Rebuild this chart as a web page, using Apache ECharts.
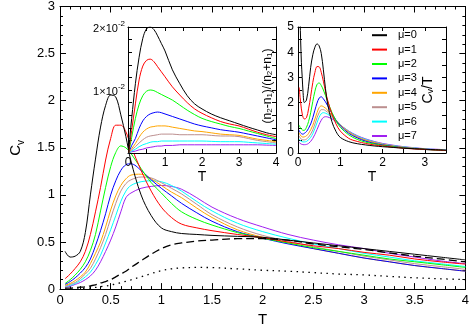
<!DOCTYPE html>
<html>
<head>
<meta charset="utf-8">
<script src="https://cdn.jsdelivr.net/npm/echarts@6/dist/echarts.min.js"></script>
<style>
  html, body { margin: 0; padding: 0; background: #fff; }
  #chart { width: 472px; height: 332px; }
</style>
</head>
<body>
<div id="chart"></div>
<script>
// main panel: C_v vs T
var T_main = [0.05,0.1,0.15,0.2,0.25,0.3,0.35,0.4,0.45,0.5,0.55,0.6,0.65,0.7,0.8,0.9,1.0,1.1,1.2,1.35,1.5,1.75,2,2.25,2.5,2.75,3,3.25,3.5,3.75,4];
var cv_mu0 = [0.40,0.34,0.35,0.40,0.60,1.00,1.38,1.72,1.95,2.06,2.04,1.85,1.62,1.36,1.00,0.78,0.65,0.61,0.59,0.58,0.57,0.56,0.55,0.52,0.49,0.46,0.43,0.40,0.37,0.34,0.31];
var cv_mu1 = [0.11,0.16,0.22,0.29,0.40,0.58,0.82,1.08,1.37,1.60,1.74,1.74,1.67,1.52,1.26,1.04,0.87,0.76,0.69,0.65,0.62,0.58,0.545,0.50,0.46,0.43,0.39,0.36,0.32,0.29,0.265];
var cv_mu2 = [0.06,0.10,0.15,0.21,0.29,0.41,0.58,0.83,1.08,1.30,1.45,1.52,1.50,1.44,1.28,1.13,1.02,0.91,0.82,0.74,0.68,0.60,0.54,0.49,0.44,0.40,0.36,0.32,0.29,0.26,0.23];
var cv_mu3 = [0.05,0.08,0.12,0.17,0.23,0.32,0.46,0.62,0.80,1.00,1.15,1.26,1.32,1.33,1.26,1.16,1.07,0.99,0.91,0.81,0.72,0.61,0.54,0.48,0.43,0.38,0.33,0.29,0.25,0.22,0.19];
var cv_mu4 = [0.04,0.06,0.09,0.13,0.18,0.27,0.38,0.50,0.66,0.84,0.99,1.10,1.17,1.21,1.22,1.17,1.10,1.03,0.97,0.86,0.76,0.63,0.55,0.49,0.43,0.38,0.33,0.29,0.25,0.22,0.19];
var cv_mu5 = [0.03,0.05,0.07,0.11,0.16,0.22,0.32,0.44,0.58,0.75,0.91,1.04,1.12,1.16,1.19,1.18,1.13,1.07,1.01,0.90,0.79,0.66,0.57,0.51,0.45,0.40,0.35,0.31,0.27,0.24,0.21];
var cv_mu6 = [0.03,0.04,0.06,0.09,0.13,0.18,0.26,0.36,0.49,0.63,0.78,0.93,1.04,1.10,1.14,1.15,1.14,1.10,1.04,0.93,0.83,0.70,0.61,0.54,0.48,0.43,0.38,0.34,0.30,0.27,0.24];
var cv_mu7 = [0.02,0.03,0.05,0.07,0.10,0.14,0.20,0.29,0.40,0.52,0.66,0.82,0.97,1.02,1.07,1.09,1.10,1.09,1.06,0.97,0.87,0.75,0.66,0.58,0.52,0.47,0.43,0.38,0.34,0.30,0.27];
var cv_dashed = [0.01,0.01,0.015,0.02,0.025,0.035,0.045,0.065,0.08,0.10,0.13,0.16,0.19,0.23,0.30,0.37,0.43,0.47,0.49,0.51,0.52,0.535,0.535,0.52,0.48,0.45,0.42,0.385,0.35,0.32,0.29];
var cv_dotted = [0,0,0.002,0.005,0.008,0.012,0.018,0.025,0.033,0.043,0.055,0.068,0.083,0.098,0.13,0.165,0.195,0.215,0.225,0.23,0.228,0.215,0.20,0.19,0.175,0.16,0.15,0.135,0.12,0.11,0.10];

// inset 1: (n2-n1)/(n2+n1), in units of 1e-2
var T_pol = [0.02,0.05,0.1,0.2,0.3,0.4,0.5,0.6,0.7,0.8,0.9,1.0,1.2,1.4,1.6,1.8,2.0,2.25,2.5,2.75,3.0,3.25,3.5,3.75,4.0];
var pol_mu0 = [0,0.25,0.55,1.10,1.52,1.82,1.97,2.00,1.96,1.86,1.74,1.62,1.32,1.10,0.91,0.78,0.70,0.62,0.56,0.51,0.46,0.41,0.365,0.32,0.29];
var pol_mu1 = [0,0.15,0.36,0.78,1.16,1.38,1.47,1.49,1.45,1.37,1.29,1.21,1.05,0.92,0.80,0.70,0.63,0.56,0.50,0.46,0.43,0.38,0.33,0.29,0.26];
var pol_mu2 = [0,0.10,0.25,0.55,0.77,0.91,0.98,1.00,0.99,0.96,0.93,0.90,0.84,0.76,0.68,0.61,0.55,0.50,0.46,0.42,0.39,0.35,0.31,0.27,0.23];
var pol_mu3 = [0,0.05,0.12,0.23,0.39,0.51,0.58,0.62,0.64,0.65,0.64,0.62,0.58,0.54,0.50,0.46,0.43,0.40,0.37,0.35,0.33,0.30,0.27,0.24,0.21];
var pol_mu4 = [0,0.03,0.07,0.15,0.25,0.33,0.38,0.41,0.42,0.43,0.43,0.43,0.41,0.39,0.37,0.35,0.34,0.32,0.30,0.29,0.28,0.25,0.22,0.20,0.18];
var pol_mu5 = [0,0.02,0.05,0.10,0.16,0.21,0.25,0.27,0.28,0.29,0.30,0.30,0.30,0.29,0.29,0.29,0.29,0.28,0.27,0.27,0.26,0.23,0.20,0.18,0.16];
var pol_mu6 = [0,0.01,0.03,0.06,0.10,0.13,0.15,0.17,0.18,0.18,0.19,0.19,0.19,0.19,0.19,0.19,0.19,0.185,0.18,0.18,0.18,0.17,0.16,0.15,0.14];
var pol_mu7 = [0,0.01,0.02,0.03,0.05,0.06,0.08,0.09,0.10,0.11,0.11,0.12,0.12,0.13,0.13,0.13,0.13,0.13,0.13,0.13,0.13,0.13,0.13,0.125,0.12];

// inset 2: C_v/T
var T_cvt = [0.03,0.05,0.08,0.1,0.12,0.15,0.2,0.25,0.3,0.35,0.4,0.45,0.5,0.55,0.6,0.65,0.7,0.8,0.9,1.0,1.2,1.4,1.6,1.8,2.0,2.25,2.5,2.75,3.0,3.25,3.5];
var cvt_mu0 = [8,5.3,3.6,3.0,2.4,2.0,2.1,2.65,3.4,3.9,4.2,4.33,4.25,3.95,3.3,2.55,1.95,1.25,0.85,0.62,0.45,0.37,0.32,0.28,0.25,0.22,0.19,0.17,0.15,0.13,0.11];
var cvt_mu1 = [2.6,2.2,1.75,1.55,1.42,1.35,1.40,1.75,2.25,2.8,3.2,3.43,3.42,3.2,2.85,2.45,2.1,1.55,1.15,0.87,0.58,0.46,0.38,0.32,0.28,0.23,0.19,0.16,0.14,0.12,0.10];
var cvt_mu2 = [1.1,1.02,0.95,0.92,0.9,0.9,1.02,1.25,1.6,2.05,2.45,2.72,2.78,2.68,2.5,2.28,2.05,1.62,1.28,1.02,0.72,0.54,0.43,0.36,0.30,0.25,0.20,0.17,0.14,0.12,0.10];
var cvt_mu3 = [0.9,0.82,0.77,0.75,0.75,0.78,0.85,0.98,1.15,1.4,1.7,1.98,2.18,2.23,2.15,2.03,1.88,1.58,1.3,1.08,0.78,0.6,0.47,0.38,0.32,0.26,0.21,0.17,0.14,0.12,0.10];
var cvt_mu4 = [0.8,0.72,0.66,0.64,0.63,0.64,0.68,0.78,0.92,1.1,1.35,1.6,1.8,1.87,1.84,1.78,1.7,1.5,1.3,1.1,0.82,0.63,0.5,0.41,0.34,0.27,0.22,0.18,0.15,0.12,0.10];
var cvt_mu5 = [0.68,0.6,0.55,0.53,0.52,0.52,0.55,0.63,0.75,0.92,1.15,1.4,1.6,1.72,1.72,1.68,1.62,1.46,1.29,1.12,0.85,0.65,0.52,0.43,0.35,0.28,0.23,0.19,0.15,0.13,0.11];
var cvt_mu6 = [0.55,0.5,0.46,0.45,0.44,0.44,0.46,0.52,0.62,0.77,0.97,1.2,1.42,1.56,1.6,1.58,1.54,1.42,1.27,1.12,0.86,0.67,0.54,0.44,0.36,0.29,0.24,0.2,0.16,0.14,0.12];
var cvt_mu7 = [0.42,0.38,0.35,0.34,0.33,0.33,0.34,0.38,0.46,0.58,0.74,0.93,1.13,1.3,1.41,1.44,1.43,1.36,1.24,1.11,0.87,0.69,0.56,0.46,0.38,0.31,0.25,0.21,0.17,0.15,0.13];

var MU = ['μ=0','μ=1','μ=2','μ=3','μ=4','μ=5','μ=6','μ=7'];
var COLORS = ['#000000','#ff0000','#00ff00','#0000ff','#ffa500','#bc8f8f','#00ffff','#a020f0'];
var FONT = '"Liberation Sans", Arial, Helvetica, sans-serif';

var chart = echarts.init(document.getElementById('chart'));

function pairs(xs, ys) {
  return xs.map(function (x, i) { return [x, ys[i]]; });
}

// axes come in pairs per grid: [bottom/left, top/right], so the data axis of grid g is 2*g
function line(name, xs, ys, color, g, z, dash, width) {
  return {
    type: 'line', name: name,
    xAxisIndex: 2 * g, yAxisIndex: 2 * g,
    data: pairs(xs, ys),
    symbol: 'none', showSymbol: false,
    smooth: 0.35,
    clip: true,
    z: z,
    silent: true,
    lineStyle: { color: color, width: width || 1, type: dash || 'solid' },
    itemStyle: { color: color }
  };
}

function axis(gridIndex, pos, min, max, interval, o) {
  o = o || {};
  var a = {
    type: 'value', gridIndex: gridIndex, position: pos,
    min: min, max: max, interval: interval,
    z: o.z || 0,
    splitLine: { show: false },
    axisLine: { show: true, onZero: false, lineStyle: { color: '#000', width: 1 } },
    axisTick: { show: true, inside: true, length: o.tick || 6, lineStyle: { color: '#000' } },
    minorTick: { show: !!o.minor, splitNumber: o.minor || 5, length: 3, lineStyle: { color: '#000' } },
    axisLabel: { show: !!o.labels, color: '#000', fontSize: o.fontSize || 13, fontFamily: FONT, margin: o.margin || 5,
                 formatter: o.formatter, rich: o.rich, showMinLabel: true, showMaxLabel: true }
  };
  if (o.name) {
    a.name = o.name;
    a.nameLocation = 'middle';
    a.nameGap = o.nameGap;
    a.nameRotate = o.nameRotate;
    a.nameTextStyle = { color: '#000', fontSize: o.nameSize || 15, fontFamily: FONT, rich: o.nameRich };
  }
  return a;
}

function intOnly(v) { return Math.abs(v - Math.round(v)) < 1e-9 ? String(Math.round(v)) : ''; }

var series = [];
var cvMain = [cv_mu0, cv_mu1, cv_mu2, cv_mu3, cv_mu4, cv_mu5, cv_mu6, cv_mu7];
var polIns = [pol_mu0, pol_mu1, pol_mu2, pol_mu3, pol_mu4, pol_mu5, pol_mu6, pol_mu7];
var cvtIns = [cvt_mu0, cvt_mu1, cvt_mu2, cvt_mu3, cvt_mu4, cvt_mu5, cvt_mu6, cvt_mu7];
for (var i = 0; i < 8; i++) {
  series.push(line(MU[i], T_main, cvMain[i], COLORS[i], 0, 2 + (8 - i) * 0.01));
}
series.push(line('dashed', T_main, cv_dashed, '#000', 0, 3, [8, 4], 1.3));
series.push(line('dotted', T_main, cv_dotted, '#000', 0, 3, [1.5, 4.5], 1.3));
for (var j = 0; j < 8; j++) {
  series.push(line(MU[j], T_pol, polIns[j], COLORS[j], 1, 12 + (8 - j) * 0.01));
  series.push(line(MU[j], T_cvt, cvtIns[j], COLORS[j], 2, 12 + (8 - j) * 0.01));
}

var supRich = {
  n: { fontSize: 11, lineHeight: 14, verticalAlign: 'bottom', fontFamily: FONT, color: '#000' },
  s: { fontSize: 8, lineHeight: 8, verticalAlign: 'top', fontFamily: FONT, color: '#000' }
};

var option = {
  animation: false,
  backgroundColor: '#fff',
  textStyle: { fontFamily: FONT, color: '#000' },
  grid: [
    { left: 42, top: 5, width: 426, height: 298, show: false },
    { left: 128, top: 27, width: 148, height: 126, show: true, backgroundColor: '#fff', borderWidth: 0, z: 10 },
    { left: 298, top: 27, width: 148, height: 126, show: true, backgroundColor: '#fff', borderWidth: 0, z: 10 }
  ],
  xAxis: [
    axis(0, 'bottom', 0, 4, 0.5, { labels: true, minor: 5, margin: 5, name: 'T', nameGap: 21, nameSize: 15 }),
    axis(0, 'top', 0, 4, 0.5, { minor: 5 }),
    axis(1, 'bottom', 0, 4, 0.5, { labels: true, fontSize: 12, margin: 4, tick: 4, z: 11, formatter: intOnly, name: 'T', nameGap: 17, nameSize: 14 }),
    axis(1, 'top', 0, 4, 0.5, { tick: 4, z: 11 }),
    axis(2, 'bottom', 0, 3.5, 0.5, { labels: true, fontSize: 12, margin: 4, tick: 4, z: 11, formatter: intOnly, name: 'T', nameGap: 17, nameSize: 14 }),
    axis(2, 'top', 0, 3.5, 0.5, { tick: 4, z: 11 })
  ],
  yAxis: [
    axis(0, 'left', 0, 3, 0.5, { labels: true, minor: 5, margin: 5, name: '{c|C}{v|v}', nameGap: 34, nameRotate: 90,
      nameRich: { c: { fontSize: 15, lineHeight: 18, verticalAlign: 'top', fontFamily: FONT, color: '#000' },
                  v: { fontSize: 10, lineHeight: 10, verticalAlign: 'bottom', fontFamily: FONT, color: '#000' } } }),
    axis(0, 'right', 0, 3, 0.5, { minor: 5 }),
    axis(1, 'left', 0, 2, 0.2, { labels: true, tick: 4, z: 11, margin: 3, rich: supRich,
      formatter: function (v) {
        if (Math.abs(v - 1) < 1e-9) return '{n|1×10}{s|-2}';
        if (Math.abs(v - 2) < 1e-9) return '{n|2×10}{s|-2}';
        return '';
      } }),
    axis(1, 'right', 0, 2, 0.2, { tick: 4, z: 11 }),
    axis(2, 'left', 0, 5, 0.5, { labels: true, fontSize: 12, margin: 4, tick: 4, z: 11, formatter: intOnly }),
    axis(2, 'right', 0, 5, 0.5, { tick: 4, z: 11 })
  ],
  legend: {
    data: MU,
    orient: 'vertical',
    left: 367, top: 23,
    z: 30,
    selectedMode: false,
    icon: 'rect',
    itemWidth: 15, itemHeight: 2, itemGap: 0,
    textStyle: { fontSize: 11, lineHeight: 14.4, fontFamily: FONT, color: '#000', padding: [0, 0, 0, 6] }
  },
  graphic: [
    {
      type: 'text', x: 268, y: 86, rotation: Math.PI / 2, z: 40,
      style: {
        text: '(n{s|2}-n{s|1})/(n{s|2}+n{s|1})',
        fontSize: 12, fontFamily: FONT, fill: '#000',
        align: 'center', verticalAlign: 'middle',
        rich: { s: { fontSize: 8, verticalAlign: 'bottom', lineHeight: 8, padding: [6, 0, 0, 0], fontFamily: FONT, fill: '#000' } }
      }
    },
    {
      type: 'text', x: 428, y: 90, rotation: Math.PI / 2, z: 40,
      style: {
        text: 'C{s|v}/T',
        fontSize: 14, fontFamily: FONT, fill: '#000',
        align: 'center', verticalAlign: 'middle',
        rich: { s: { fontSize: 9, verticalAlign: 'bottom', lineHeight: 9, padding: [7, 0, 0, 0], fontFamily: FONT, fill: '#000' } }
      }
    }
  ],
  series: series
};

chart.setOption(option);
</script>
</body>
</html>
